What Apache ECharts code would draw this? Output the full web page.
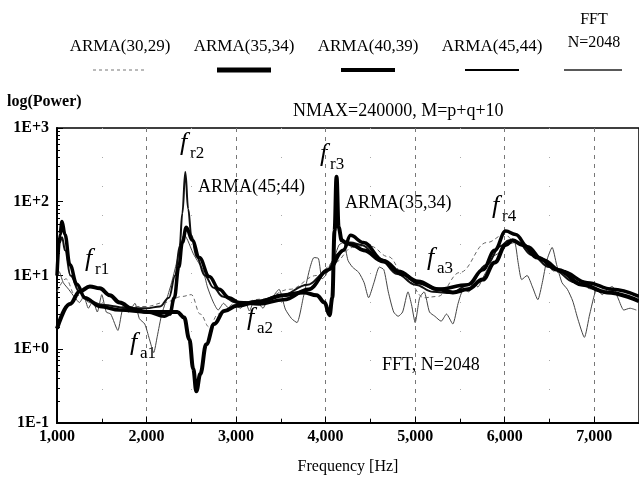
<!DOCTYPE html>
<html>
<head>
<meta charset="utf-8">
<script src="https://cdn.jsdelivr.net/npm/echarts@6/dist/echarts.min.js"></script>
<style>
  html, body { margin: 0; padding: 0; background: #fff; }
  #chart { width: 639px; height: 480px; }
</style>
</head>
<body>
<div id="chart"></div>
<script>
  // x ticks
  var xTicks = [1000, 2000, 3000, 4000, 5000, 6000, 7000];

  // FFT, N=2048
  var fftHz = [1000,1030,1070,1130,1200,1250,1300,1350,1400,1450,1500,1550,1600,1680,1740,1800,1870,1920,1980,2030,2080,2120,2170,2230,2280,2330,2380,2420,2460,2520,2580,2630,2680,2740,2800,2860,2920,2980,3050,3100,3150,3200,3250,3300,3350,3400,3480,3550,3620,3680,3750,3820,3870,3920,3960,4000,4050,4100,4150,4200,4250,4300,4370,4430,4480,4540,4600,4650,4700,4760,4810,4860,4920,4960,5000,5050,5100,5160,5220,5290,5350,5420,5480,5540,5600,5650,5700,5760,5820,5870,5930,6000,6060,6110,6150,6190,6250,6310,6370,6420,6470,6530,6580,6640,6700,6760,6820,6890,6950,7030,7090,7150,7200,7270,7330,7400,7470];
  var fftVal = [12,11,8,6.5,5,4.3,5.2,3.6,4.5,3.2,5.5,3.2,3.0,1.8,3.6,3.2,4.2,2.6,2.2,1.4,0.9,1.5,3.0,5,8,14,25,36,30,20,15,12,7,4.5,3.4,4.2,3.6,4.0,3.6,4.5,3.3,4.5,4.2,3.6,4.6,5.0,6.5,3.5,2.6,2.3,5,12,17.5,17,9,10,14,18,26,28,16,13,11,8,5.0,8,13,12,6,3.2,2.8,3.2,6,4,2.3,5,6,3.2,2.8,2.4,3.0,2.2,4.2,6.5,6.0,8.0,7,9.5,13,18,20,25,27,28,15,8.8,10,7,4.7,8,16,24,14,8,6.5,4.5,2.5,1.45,3,6.5,5.5,6.5,7.1,4.8,3.4,3.6,3.4];

  // ARMA(30,29)
  var a30Hz = [1000,1100,1200,1400,1700,2000,2200,2400,2500,2600,2700,2800,3000,3300,3600,3900,4100,4300,4500,4700,4900,5100,5250,5500,5800,6000,6100,6300,6600,7000,7500];
  var a30Val = [6,9,5.5,4.2,3.8,3.8,4.3,5.2,5.5,3,2,3,4.2,4.8,6.5,10,15,24,25,18,9,5,5.2,11,28,36,30,20,11,6.5,4.5];

  // ARMA(35,34)
  var a35Hz = [1000,1144,1256,1367,1478,1589,1700,1844,2011,2200,2344,2420,2478,2522,2556,2600,2667,2756,2867,3011,3256,3533,3756,3900,3989,4044,4075,4100,4122,4145,4180,4222,4300,4422,4644,4811,5033,5256,5422,5589,5756,5889,6011,6089,6200,6367,6589,6867,7144,7500];
  var a35Val = [1.9,4.1,6.1,7.1,6.7,5.4,4.3,3.5,3.2,3.2,3.2,2.7,1.36,0.54,0.27,0.46,1.17,2.2,3.3,3.9,4.45,5.4,5.9,5.4,4.3,2.9,5,40,218,45,30,28,26,22,15.5,11.3,8.3,6.5,5.9,6.5,8.8,15,26,30,26,17.5,12,7.5,5.9,4.5];

  // ARMA(40,39)
  var a40Hz = [1000,1033,1056,1089,1144,1222,1311,1478,1700,2011,2200,2260,2310,2360,2400,2444,2511,2589,2700,2811,2922,3033,3256,3533,3811,4033,4200,4278,4422,4644,4867,5033,5256,5589,5756,5889,6011,6122,6256,6422,6644,6922,7200,7500];
  var a40Val = [10,36,54,36,14,7.6,5.0,3.8,3.4,3.2,2.8,3.0,5,13,28,45,30,17.5,9.7,6.5,5.0,4.3,4.1,4.7,6.5,12,22,35,28,16,10.3,8,6.5,7.5,12,22,40,36,24.6,16.4,11.3,8,6.5,5.2];

  // ARMA(45,44)
  var a45Hz = [1000,1030,1056,1090,1150,1250,1350,1500,1800,2000,2150,2250,2320,2370,2400,2433,2465,2500,2560,2650,2750,2850,3000,3200,3500,3800,4000,4150,4280,4400,4600,4800,5000,5200,5400,5600,5800,5950,6050,6150,6300,6500,6800,7100,7500];
  var a45Val = [14,28,33,22,10,6,4.6,4.0,3.6,3.6,3.8,5,10,25,70,253,80,35,18,10,6.8,5.2,4.3,4.4,5.3,7.5,11,20,28,26,17,10.5,7.5,6,5.8,7.5,14,25,30,28,19,13,8,6,4.5];

  function pairs(xs, ys) {
    return xs.map(function (x, i) { return [x, ys[i]]; });
  }

  var serif = '"Liberation Serif", "DejaVu Serif", serif';

  var myChart = echarts.init(document.getElementById('chart'));

  // f with subscript, drawn as two texts
  function fLabel(x, y, sub) {
    return [
      { type: 'text', x: x, y: y, style: { text: 'f', font: 'italic 26px ' + serif, fill: '#000' } },
      { type: 'text', x: x + 10, y: y + 15, style: { text: sub, font: '17px ' + serif, fill: '#000' } }
    ];
  }

  function legendItem(cx, text, lw, dash) {
    return [
      { type: 'text', x: cx, y: 38, style: { text: text, font: '17px ' + serif, fill: '#000', align: 'center', verticalAlign: 'top' } },
      {
        type: 'line', shape: { x1: cx - 27, y1: 70, x2: cx + 27, y2: 70 },
        style: { stroke: dash ? '#777' : '#000', lineWidth: lw, lineDash: dash || null }
      }
    ];
  }

  var graphics = [].concat(
    legendItem(120, 'ARMA(30,29)', 1, [3, 3]),
    legendItem(244, 'ARMA(35,34)', 5),
    legendItem(368, 'ARMA(40,39)', 4),
    legendItem(492, 'ARMA(45,44)', 2),
    [
      { type: 'text', x: 594, y: 12, style: { text: 'FFT', font: '16px ' + serif, fill: '#000', align: 'center', verticalAlign: 'top' } },
      { type: 'text', x: 594, y: 35, style: { text: 'N=2048', font: '16px ' + serif, fill: '#000', align: 'center', verticalAlign: 'top' } },
      { type: 'line', shape: { x1: 564, y1: 70, x2: 622, y2: 70 }, style: { stroke: '#222', lineWidth: 1.5 } },
      { type: 'text', x: 7, y: 94, style: { text: 'log(Power)', font: 'bold 16px ' + serif, fill: '#000' } },
      { type: 'text', x: 293, y: 102, style: { text: 'NMAX=240000, M=p+q+10', font: '18px ' + serif, fill: '#000' } },
      { type: 'text', x: 198, y: 178, style: { text: 'ARMA(45;44)', font: '18px ' + serif, fill: '#000' } },
      { type: 'text', x: 345, y: 194, style: { text: 'ARMA(35,34)', font: '18px ' + serif, fill: '#000' } },
      { type: 'text', x: 382, y: 356, style: { text: 'FFT, N=2048', font: '18px ' + serif, fill: '#000' } }
    ],
    fLabel(85, 246, 'r1'),
    fLabel(180, 130, 'r2'),
    fLabel(320, 141, 'r3'),
    fLabel(492, 193, 'r4'),
    fLabel(130, 330, 'a1'),
    fLabel(247, 305, 'a2'),
    fLabel(427, 245, 'a3')
  );

  var option = {
    animation: false,
    backgroundColor: '#fff',
    grid: {
      left: 57,
      right: -4,
      top: 128,
      bottom: 54,
      show: true,
      borderColor: '#000',
      borderWidth: 1.5
    },
    xAxis: {
      type: 'value',
      min: 1000,
      max: 7500,
      interval: 1000,
      name: 'Frequency [Hz]',
      nameLocation: 'middle',
      nameGap: 36,
      nameTextStyle: { fontFamily: serif, fontSize: 16, color: '#000' },
      axisLine: { lineStyle: { color: '#000', width: 2 } },
      axisTick: { inside: true, length: 6, lineStyle: { color: '#000' } },
      minorTick: { show: true, splitNumber: 2, length: 4, lineStyle: { color: '#000' } },
      axisLabel: {
        fontFamily: serif,
        fontSize: 16,
        fontWeight: 'bold',
        color: '#000',
        margin: 6,
        customValues: xTicks,
        formatter: function (v) { return v.toLocaleString('en-US'); }
      },
      splitLine: { show: true, lineStyle: { color: '#777', width: 1, type: [4, 5] } },
      minorSplitLine: { show: true, lineStyle: { color: '#aaa', width: 1, type: [1, 28] } }
    },
    yAxis: {
      type: 'log',
      logBase: 10,
      min: 0.1,
      max: 1000,
      axisLine: { show: true, lineStyle: { color: '#000', width: 2 } },
      axisTick: { show: true, inside: true, length: 6, lineStyle: { color: '#000' } },
      minorTick: { show: true, splitNumber: 9, length: 3, lineStyle: { color: '#000' } },
      axisLabel: {
        fontFamily: serif,
        fontSize: 16,
        fontWeight: 'bold',
        color: '#000',
        margin: 8,
        formatter: function (v) {
          var e = Math.round(Math.log10(v));
          return '1E' + (e >= 0 ? '+' : '') + e;
        }
      },
      splitLine: { show: false }
    },
    graphic: graphics,
    series: [
      {
        name: 'FFT N=2048', type: 'line', showSymbol: false, smooth: 0.2,
        lineStyle: { color: '#444', width: 1 },
        data: pairs(fftHz, fftVal)
      },
      {
        name: 'ARMA(30,29)', type: 'line', showSymbol: false, smooth: 0.4, smoothMonotone: 'x',
        lineStyle: { color: '#666', width: 1, type: [4, 3] },
        data: pairs(a30Hz, a30Val)
      },
      {
        name: 'ARMA(45,44)', type: 'line', showSymbol: false, smooth: 0.4, smoothMonotone: 'x',
        lineStyle: { color: '#111', width: 2 },
        data: pairs(a45Hz, a45Val)
      },
      {
        name: 'ARMA(40,39)', type: 'line', showSymbol: false, smooth: 0.4, smoothMonotone: 'x',
        lineStyle: { color: '#000', width: 3.5 },
        data: pairs(a40Hz, a40Val)
      },
      {
        name: 'ARMA(35,34)', type: 'line', showSymbol: false, smooth: 0.4, smoothMonotone: 'x',
        lineStyle: { color: '#000', width: 4 },
        data: pairs(a35Hz, a35Val)
      }
    ]
  };
  myChart.setOption(option);
</script>
</body>
</html>
